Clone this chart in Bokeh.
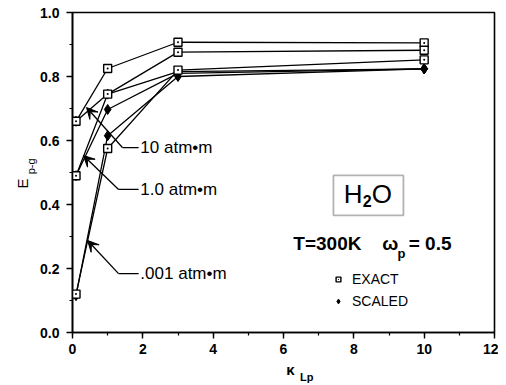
import math
from bokeh.plotting import figure
from bokeh.models import (Label, Arrow, VeeHead, BoxAnnotation, Legend, LegendItem,
                          ColumnDataSource, FixedTicker, PrintfTickFormatter, Range1d)
from bokeh.embed import file_html
from bokeh.resources import INLINE

# ---- data ----
kappa = [0.1, 1, 3, 10]
exact_10 = [0.66, 0.825, 0.907, 0.905]
exact_1 = [0.49, 0.745, 0.876, 0.882]
exact_001 = [0.12, 0.575, 0.82, 0.852]
scaled_10 = [0.66, 0.745, 0.815, 0.824]
scaled_1 = [0.49, 0.697, 0.81, 0.824]
scaled_001 = [0.115, 0.615, 0.80, 0.824]
x_ticks = [0, 2, 4, 6, 8, 10, 12]
y_ticks = [0.0, 0.2, 0.4, 0.6, 0.8, 1.0]
curve_labels = ["10 atm\u2022m", "1.0 atm\u2022m", ".001 atm\u2022m"]

FONT = "Liberation Sans"


def lab(x, y, text, size, bold=False, **kw):
    return Label(x=x, y=y, text=text, text_font=FONT, text_font_size=size,
                 text_font_style="bold" if bold else "normal", text_color="black",
                 text_baseline=kw.pop("baseline", "middle"),
                 text_align=kw.pop("align", "left"), **kw)


p = figure(width=498, height=385, output_backend="svg", toolbar_location=None,
           x_range=Range1d(0, 12), y_range=Range1d(0, 1.0),
           min_border_left=72, min_border_right=4, min_border_top=12, min_border_bottom=53)
p.xgrid.visible = False
p.ygrid.visible = False
p.outline_line_color = "black"
p.outline_line_width = 1.6
p.background_fill_color = "white"

for ax in (p.xaxis[0], p.yaxis[0]):
    ax.axis_line_width = 1.6
    ax.major_tick_out = 6
    ax.major_tick_in = 0
    ax.minor_tick_out = 3
    ax.minor_tick_in = 0
    ax.major_tick_line_width = 1.4
    ax.minor_tick_line_width = 1.2
    ax.major_label_text_font = FONT
    ax.major_label_text_font_style = "bold"
    ax.major_label_text_font_size = "14px"
    ax.major_label_text_color = "black"
    ax.major_label_standoff = 7
p.xaxis[0].major_label_standoff = 5

p.xaxis[0].ticker = FixedTicker(ticks=x_ticks, minor_ticks=list(range(0, 13)))
p.yaxis[0].ticker = FixedTicker(ticks=y_ticks, minor_ticks=[i / 10 for i in range(11)])
p.yaxis[0].formatter = PrintfTickFormatter(format="%.1f")

# ---- curves ----
for ys in (exact_10, exact_1, exact_001, scaled_10, scaled_1, scaled_001):
    p.line(kappa, ys, line_color="black", line_width=1.3)

ex_src = ColumnDataSource(dict(x=kappa * 3, y=exact_10 + exact_1 + exact_001))
sc_src = ColumnDataSource(dict(x=kappa * 3, y=scaled_10 + scaled_1 + scaled_001))
r_sc = p.scatter("x", "y", source=sc_src, marker="diamond", size=10,
                 fill_color="black", line_color="black")
r_ex = p.scatter("x", "y", source=ex_src, marker="square_dot", size=8,
                 fill_color="white", line_color="black", line_width=1.4)

# ---- arrows with labels ----
tips = [(0.40, 0.703), (0.31, 0.553), (0.43, 0.2875)]
bends = [(1.42, 0.578), (1.31, 0.447), (1.31, 0.184)]
ends_x = 1.88
for (tx, ty), (bx, by), txt in zip(tips, bends, curve_labels):
    p.line([bx, ends_x], [by, by], line_color="black", line_width=1.3)
    p.add_layout(Arrow(end=VeeHead(size=11, fill_color="black", line_color="black"),
                       x_start=bx, y_start=by, x_end=tx, y_end=ty,
                       line_color="black", line_width=1.3))
    p.add_layout(lab(1.93, by, txt, "17px"))

# ---- H2O box ----
p.add_layout(BoxAnnotation(left=7.42, right=9.41, bottom=0.366, top=0.491,
                           fill_alpha=0, line_color="black", line_width=1.8))
p.add_layout(lab(7.71, 0.433, "H", "26px"))
p.add_layout(lab(8.25, 0.41, "2", "16px", bold=True))
p.add_layout(lab(8.51, 0.433, "O", "26px"))

# ---- condition text ----
p.add_layout(lab(6.28, 0.277, "T=300K", "19px", bold=True))
p.add_layout(lab(8.81, 0.277, "\u03c9", "19px", bold=True))
p.add_layout(lab(9.24, 0.247, "p", "13px", bold=True))
p.add_layout(lab(9.56, 0.277, "= 0.5", "19px", bold=True))

# ---- legend ----
legend = Legend(items=[LegendItem(label="EXACT", renderers=[r_ex]),
                       LegendItem(label="SCALED", renderers=[r_sc])],
                location=(260, 23), border_line_alpha=0, background_fill_alpha=0,
                label_text_font=FONT, label_text_font_size="14px", label_text_color="black",
                glyph_width=12, glyph_height=16, spacing=6, padding=0, margin=0,
                label_standoff=8, label_height=16)
p.add_layout(legend)

# ---- axis titles (side panels, so they are not clipped to the frame) ----
p.add_layout(lab(-1.42, 0.466, "E", "15px", angle=90, angle_units="deg", align="center"), "left")
p.add_layout(lab(-1.19, 0.519, "p-g", "11px", angle=90, angle_units="deg", align="center"), "left")
p.add_layout(lab(6.2, -0.116, "\u03ba", "15px", bold=True, align="center"), "below")
p.add_layout(lab(6.66, -0.1375, "Lp", "11px", bold=True, align="center"), "below")

open("out.html", "w").write(file_html(p, INLINE))
